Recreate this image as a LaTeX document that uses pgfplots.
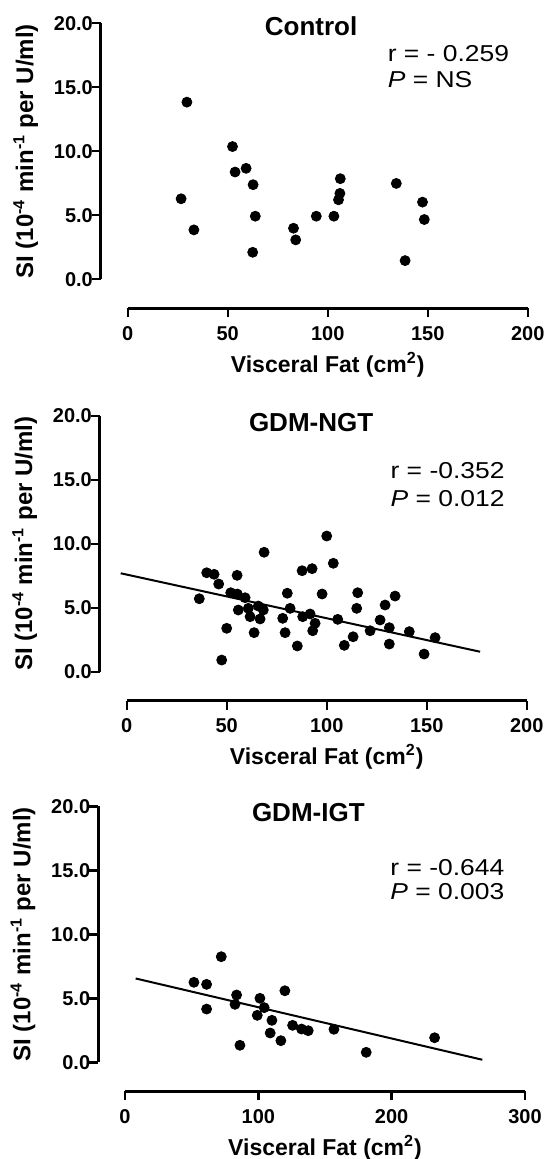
\documentclass[border=0pt]{standalone}
\usepackage{fontspec}
\setmainfont{Liberation Sans}
\usepackage{pgfplots}
\pgfplotsset{compat=1.18}

\pgfplotstableread{
x y
26.7 6.29
29.6 13.84
33.1 3.86
52.4 10.37
53.7 8.38
59.2 8.67
62.7 7.39
63.8 4.93
62.5 2.11
82.9 3.99
84.0 3.08
94.3 4.93
103.1 4.93
106.3 7.86
106.1 6.71
105.4 6.21
134.3 7.49
138.7 1.46
147.4 6.03
148.3 4.67
}\control

\pgfplotstableread{
x y
36.3 5.70
40.0 7.73
43.7 7.61
46.0 6.85
47.5 0.91
50.0 3.39
55.2 7.53
52.0 6.17
55.3 6.07
59.2 5.78
55.8 4.82
60.8 4.95
61.7 4.30
63.7 3.05
66.7 4.12
68.3 4.82
68.7 9.33
65.8 5.13
78.0 4.17
79.2 3.05
80.3 6.13
81.7 4.95
85.3 2.01
87.7 7.89
92.7 8.05
88.0 4.30
91.7 4.51
94.2 3.78
93.0 3.20
97.7 6.07
100.0 10.60
103.3 8.47
105.5 4.09
108.8 2.06
113.2 2.73
115.5 6.17
115.0 4.95
134.2 5.91
129.2 5.21
126.7 4.04
121.7 3.20
131.3 3.44
131.3 2.16
141.3 3.13
148.7 1.38
154.2 2.66
}\ngt

\pgfplotstableread{
x y
72.2 8.25
51.7 6.25
61.2 6.09
61.2 4.16
83.7 5.26
82.5 4.53
86.2 1.33
101.2 5.00
104.4 4.27
99.2 3.67
110.2 3.28
108.9 2.29
116.9 1.69
119.9 5.59
125.7 2.89
132.4 2.60
137.4 2.47
156.7 2.58
180.9 0.78
232.2 1.92
}\igt

\pgfplotsset{
  prism/.style={
    scale only axis,
    width=200pt, height=128pt,
    ymin=0, ymax=20, xmin=0,
    axis x line*=bottom, axis y line*=left,
    axis x line shift=14.5pt, axis y line shift=13.4pt,
    axis line style={line width=1.5pt, black},
    tick align=outside,
    major tick length=4.5pt,
    every tick/.style={black, line width=1.2pt},
    ytick={0,5,10,15,20},
    yticklabel style={/pgf/number format/fixed, /pgf/number format/fixed zerofill, /pgf/number format/precision=1},
    yticklabel shift=-4pt,
    xticklabel shift=1pt,
    ticklabel style={font=\bfseries\fontsize{10}{12}\selectfont},
    /pgf/number format/assume math mode=true,
    clip=false,
    xlabel={Visceral Fat (cm\textsuperscript{2})},
    ylabel={SI (10\textsuperscript{-4} min\textsuperscript{-1} per U/ml)},
    xlabel style={at={(axis description cs:0.5,-0.363)}, anchor=base, font=\bfseries\fontsize{11.5}{13}\selectfont},
    ylabel style={at={(axis description cs:-0.255,0.5)}, anchor=center, font=\bfseries\fontsize{12}{14}\selectfont},
  },
  dots/.style={only marks, mark=*, mark size=2.5pt, black},
  fit/.style={no marks, black, line width=1pt},
}
\tikzset{
  ttl/.style={anchor=base, inner sep=0pt, font=\bfseries\fontsize{13}{15}\selectfont},
  ann/.style={anchor=base west, inner sep=0pt, xscale=1.15, font=\fontsize{11.5}{13}\selectfont},
}

\begin{document}
\begin{tikzpicture}
\useasboundingbox (0,0) rectangle (273.5pt,-579.5pt);

\begin{axis}[prism, at={(63.85pt,-139.65pt)}, anchor=south west,
  xmax=200, xtick={0,50,100,150,200}]
\addplot[dots] table {\control};
\node[ttl] at (axis cs:91.7,19.05) {Control};
\node[ann] at (axis cs:129.8,17.0) {r = - 0.259};
\node[ann] at (axis cs:129.8,14.95) {\textit{P} = NS};
\end{axis}

\begin{axis}[prism, at={(63.35pt,-335.85pt)}, anchor=south west,
  xmax=200, xtick={0,50,100,150,200}]
\addplot[dots] table {\ngt};
\addplot[fit] coordinates {(-3,7.69) (176.7,1.56)};
\node[ttl] at (axis cs:92.2,18.75) {GDM-NGT};
\node[ann] at (axis cs:131.7,15.1) {r = -0.352};
\node[ann] at (axis cs:131.7,12.9) {\textit{P} = 0.012};
\end{axis}

\begin{axis}[prism, at={(62.5pt,-531.15pt)}, anchor=south west,
  xmax=300, xtick={0,100,200,300}]
\addplot[dots] table {\igt};
\addplot[fit] coordinates {(8,6.55) (268,0.2)};
\node[ttl] at (axis cs:137.5,18.8) {GDM-IGT};
\node[ann] at (axis cs:198.7,14.6) {r = -0.644};
\node[ann] at (axis cs:198.7,12.75) {\textit{P} = 0.003};
\end{axis}
\end{tikzpicture}
\end{document}
